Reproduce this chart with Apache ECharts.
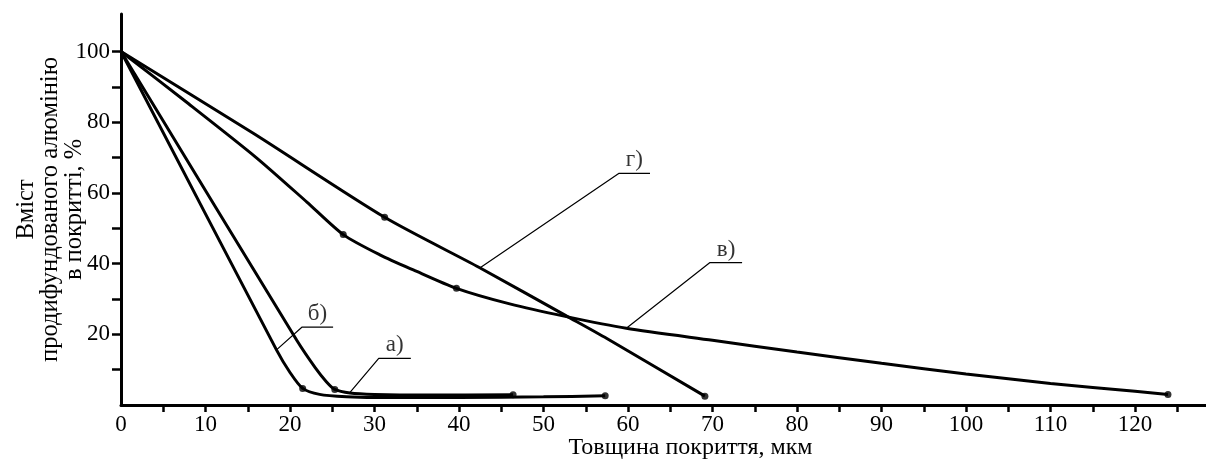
<!DOCTYPE html>
<html>
<head>
<meta charset="utf-8">
<script src="https://cdn.jsdelivr.net/npm/echarts@6/dist/echarts.min.js"></script>
<style>
html,body{margin:0;padding:0;background:#ffffff;}
#chart{width:1206px;height:459px;}
</style>
</head>
<body>
<div id="chart"></div>
<script>
// ---- tick / label values ----
const xTickValues = [5,10,15,20,25,30,35,40,45,50,55,60,65,70,75,80,85,90,95,100,105,110,115,120,125];
const xLabelValues = [0,10,20,30,40,50,60,70,80,90,100,110,120];
const yTickValues = [10,20,30,40,50,60,70,80,90,100];
const yLabelValues = [20,40,60,80,100];

// ---- curves [thickness µm, Al content %] ----
const curveA = [[0,100],[20.8,18.3],[23.0,10.5],[24.3,6.6],[25.3,4.4],[27.1,3.4],[30,3.0],[36,2.8],[46.4,2.9]];
const curveB = [[0,100],[18.4,15.6],[20.0,9.2],[21.5,4.7],[23.5,3.0],[26.7,2.3],[30,2.1],[40,2.1],[50,2.3],[57.3,2.6]];
const curveV = [[0,100],[8,85.2],[16,70.0],[22,57.4],[26.3,48.2],[30.7,42.4],[34.6,38.2],[39.7,33.0],[46,28.6],[52.7,25.0],[59.8,21.7],[70,18.3],[80,15.0],[90,11.8],[100,8.8],[110,6.1],[120,3.9],[123.9,3.0]];
const curveG = [[0,100],[15.7,76.8],[31.2,53.1],[42.4,38.9],[52.7,25.2],[57.5,18.8],[69.1,2.5]];

// indices of points drawn with a dot
const dotIdxA = [4,8];
const dotIdxB = [3,9];
const dotIdxV = [4,7,17];
const dotIdxG = [2,6];

// ---- leader lines for curve labels (curve point, elbow, end of underline) ----
const leaderA = [[27.1,3.6],[30.5,13.2],[34.3,13.2]];
const leaderB = [[18.4,15.6],[21.4,22.0],[25.1,22.0]];
const leaderV = [[59.8,21.7],[69.7,40.3],[73.5,40.3]];
const leaderG = [[42.5,38.8],[58.9,65.5],[62.6,65.5]];
const curveNames = ['а)','б)','в)','г)'];

const FONT = "'Liberation Serif','Times New Roman',serif";
const curves = [curveA, curveB, curveV, curveG];
const dotIdx = [dotIdxA, dotIdxB, dotIdxV, dotIdxG];
const leaders = [leaderA, leaderB, leaderV, leaderG];

const series = [];
curves.forEach(function (c) {
  series.push({
    type: 'line', data: c, smooth: 0.25, symbol: 'none', silent: true,
    lineStyle: {color: '#000', width: 3}, z: 3
  });
});
curves.forEach(function (c, i) {
  series.push({
    type: 'scatter', data: dotIdx[i].map(function (k) { return c[k]; }),
    symbol: 'circle', symbolSize: 7, itemStyle: {color: '#000'}, z: 4, silent: true
  });
});
leaders.forEach(function (l, i) {
  series.push({
    type: 'line', data: l, symbol: 'none', silent: true,
    lineStyle: {color: '#000', width: 1.2}, z: 2
  });
  const p = l[1], q = l[2];
  series.push({
    type: 'scatter', silent: true, symbolSize: 1, itemStyle: {color: 'rgba(0,0,0,0)'},
    data: [{name: curveNames[i], value: [(p[0] + q[0]) / 2, p[1]]}],
    label: {show: true, position: 'top', distance: 1, formatter: '{b}',
      fontFamily: FONT, fontSize: 23, color: '#000'}
  });
});

const chart = echarts.init(document.getElementById('chart'), null, {renderer: 'canvas'});
chart.setOption({
  animation: false,
  backgroundColor: '#ffffff',
  grid: {left: 121, right: 0, top: 14, bottom: 54, containLabel: false, outerBoundsMode: 'none'},
  xAxis: {
    type: 'value', min: 0, max: 128.4,
    name: 'Товщина покриття, мкм', nameLocation: 'middle', nameGap: 31, nameMoveOverlap: false,
    nameTextStyle: {fontFamily: FONT, fontSize: 24, color: '#000', padding: [0, 0, 0, 54]},
    axisLine: {show: true, lineStyle: {color: '#000', width: 3}},
    axisTick: {show: true, length: 7, inside: false, customValues: xTickValues,
      lineStyle: {color: '#000', width: 2.5}},
    axisLabel: {show: true, customValues: xLabelValues, margin: 8,
      fontFamily: FONT, fontSize: 23, color: '#000'},
    splitLine: {show: false}
  },
  yAxis: {
    type: 'value', min: 0, max: 110.6,
    name: 'Вміст\nпродифундованого алюмінію\nв покритті, %',
    nameLocation: 'middle', nameRotate: 90, nameGap: 34, nameMoveOverlap: false,
    nameTextStyle: {fontFamily: FONT, fontSize: 24.5, lineHeight: 24, color: '#000', align: 'center'},
    axisLine: {show: true, lineStyle: {color: '#000', width: 3}},
    axisTick: {show: true, length: 9, inside: false, customValues: yTickValues,
      lineStyle: {color: '#000', width: 2.5}},
    axisLabel: {show: true, customValues: yLabelValues, margin: 11,
      fontFamily: FONT, fontSize: 23, color: '#000'},
    splitLine: {show: false}
  },
  series: series
});
</script>
</body>
</html>
